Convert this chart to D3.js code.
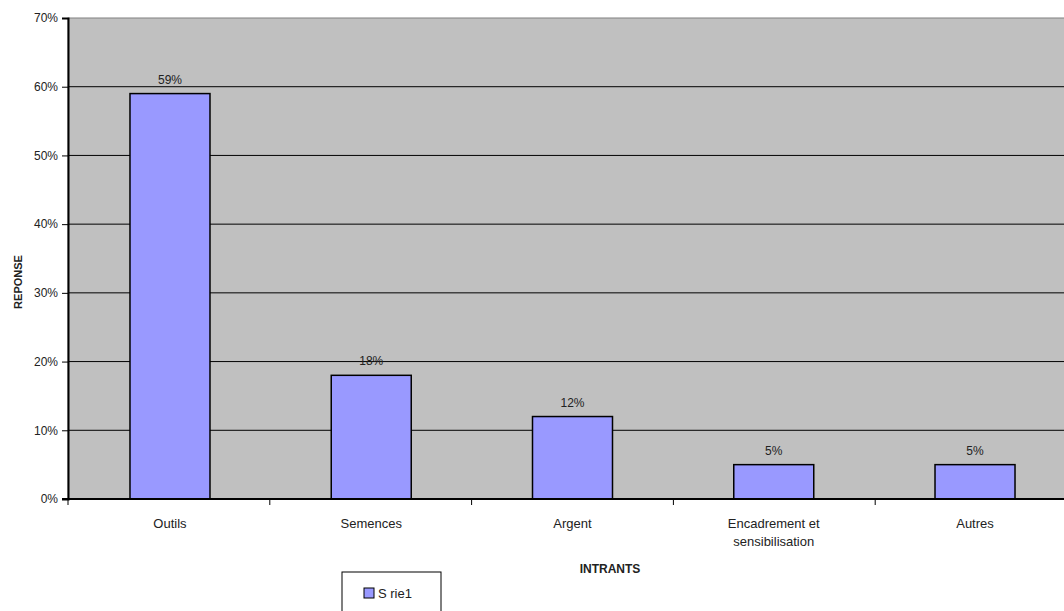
<!DOCTYPE html>
<html>
<head>
<meta charset="utf-8">
<script src="https://cdn.jsdelivr.net/npm/d3@7"></script>
<style>
  body { margin: 0; background: #fff; }
  svg { display: block; font-family: "Liberation Sans", Arial, sans-serif; }
</style>
</head>
<body>
<script>
const categories = ["Outils", "Semences", "Argent", "Encadrement et|sensibilisation", "Autres"];
const values = [59, 18, 12, 5, 5];
const yTicks = [0, 10, 20, 30, 40, 50, 60, 70];
const seriesName = "S rie1";

const width = 1064;
const height = 611;
const margin = { top: 18, right: -13, bottom: 112, left: 68 };

const x = d3.scaleBand()
  .domain(categories)
  .range([margin.left, width - margin.right])
  .paddingInner(0.6025)
  .paddingOuter(0.308);

const y = d3.scaleLinear()
  .domain([0, 70])
  .range([height - margin.bottom, margin.top]);

const svg = d3.select("body").append("svg")
  .attr("width", width)
  .attr("height", height);

// plot background
svg.append("rect")
  .attr("x", margin.left)
  .attr("y", margin.top)
  .attr("width", width - margin.right - margin.left)
  .attr("height", y(0) - margin.top)
  .attr("fill", "#c0c0c0")
  .attr("stroke", "#808080");

// gridlines
svg.append("g")
  .selectAll("line")
  .data(yTicks.slice(1, -1))
  .join("line")
  .attr("x1", margin.left)
  .attr("x2", width)
  .attr("y1", (d) => y(d))
  .attr("y2", (d) => y(d))
  .attr("stroke", "#000")
  .attr("stroke-width", 1);

// bars
svg.append("g")
  .selectAll("rect")
  .data(values)
  .join("rect")
  .attr("x", (d, i) => x(categories[i]))
  .attr("y", (d) => y(d))
  .attr("width", x.bandwidth())
  .attr("height", (d) => y(0) - y(d))
  .attr("fill", "#9999ff")
  .attr("stroke", "#000")
  .attr("stroke-width", 1.5);

// value labels
svg.append("g")
  .selectAll("text")
  .data(values)
  .join("text")
  .attr("x", (d, i) => x(categories[i]) + x.bandwidth() / 2)
  .attr("y", (d) => y(d) - 10)
  .attr("text-anchor", "middle")
  .attr("font-size", 12)
  .attr("fill", "#222")
  .text((d) => d + "%");

// y axis
const yAxis = d3.axisLeft(y)
  .tickValues(yTicks)
  .tickFormat((d) => d + "%")
  .tickSize(6)
  .tickPadding(4);

svg.append("g")
  .attr("transform", `translate(${margin.left},0)`)
  .call(yAxis)
  .call((g) => g.select(".domain").attr("stroke-width", 2))
  .call((g) => g.selectAll("text").attr("font-size", 12).attr("fill", "#222")
    .attr("font-family", "Liberation Sans, Arial, sans-serif"));

// x axis
const xg = svg.append("g");
xg.append("line")
  .attr("x1", margin.left - 6)
  .attr("x2", width)
  .attr("y1", y(0))
  .attr("y2", y(0))
  .attr("stroke", "#000")
  .attr("stroke-width", 2);

const step = (width - margin.right - margin.left) / categories.length;
xg.selectAll(".tick")
  .data(d3.range(categories.length + 1))
  .join("line")
  .attr("x1", (i) => margin.left + i * step)
  .attr("x2", (i) => margin.left + i * step)
  .attr("y1", y(0))
  .attr("y2", y(0) + 6)
  .attr("stroke", "#000");

xg.selectAll("text")
  .data(categories)
  .join("text")
  .attr("x", (d) => x(d) + x.bandwidth() / 2)
  .attr("y", y(0) + 29)
  .attr("text-anchor", "middle")
  .attr("font-size", 13)
  .attr("fill", "#222")
  .each(function (d) {
    const parts = d.split("|");
    d3.select(this).selectAll("tspan")
      .data(parts)
      .join("tspan")
      .attr("x", x(d) + x.bandwidth() / 2)
      .attr("dy", (p, j) => (j === 0 ? 0 : 18))
      .text((p) => p);
  });

// axis titles
svg.append("text")
  .attr("x", (margin.left + width) / 2 + 44)
  .attr("y", 573)
  .attr("text-anchor", "middle")
  .attr("font-size", 12)
  .attr("font-weight", "bold")
  .attr("fill", "#222")
  .text("INTRANTS");

svg.append("text")
  .attr("transform", "translate(22,282) rotate(-90)")
  .attr("text-anchor", "middle")
  .attr("font-size", 11)
  .attr("font-weight", "bold")
  .attr("fill", "#222")
  .text("REPONSE");

// legend
const legend = svg.append("g").attr("transform", "translate(342,572)");
legend.append("rect")
  .attr("width", 99)
  .attr("height", 45)
  .attr("fill", "#fff")
  .attr("stroke", "#000");
legend.append("rect")
  .attr("x", 22)
  .attr("y", 16)
  .attr("width", 10)
  .attr("height", 10)
  .attr("fill", "#9999ff")
  .attr("stroke", "#000");
legend.append("text")
  .attr("x", 36)
  .attr("y", 26)
  .attr("font-size", 13)
  .attr("fill", "#222")
  .text(seriesName);
</script>
</body>
</html>
